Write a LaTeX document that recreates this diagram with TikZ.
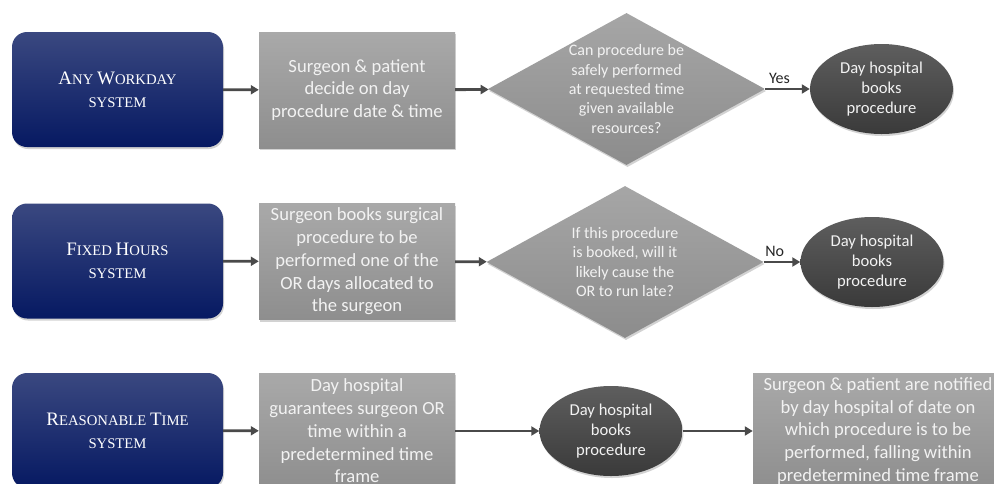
\documentclass[tikz,border=0pt]{standalone}
\usepackage{fontspec}
\setmainfont{Carlito}
\newfontfamily\titleserif{Liberation Serif}
\usetikzlibrary{shapes.geometric,arrows.meta,shadows}

\definecolor{navytop}{HTML}{3A4880}
\definecolor{navybot}{HTML}{061962}
\definecolor{steptop}{HTML}{A9A9A9}
\definecolor{stepbot}{HTML}{8E8E8E}
\definecolor{decitop}{HTML}{A6A6A6}
\definecolor{decibot}{HTML}{8C8C8C}
\definecolor{ovaltop}{HTML}{5E5E5E}
\definecolor{ovalbot}{HTML}{3A3A3A}
\definecolor{arrowgray}{HTML}{4A4A4A}
\definecolor{paletext}{HTML}{F2F2F2}

% hand-made small capitals for the system titles
\newcommand{\initialcap}[1]{{\fontsize{19}{23}\selectfont #1}}
\newcommand{\systemfont}{\titleserif\fontsize{14.7}{23}\selectfont}

\tikzset{
  shade/.style={drop shadow={opacity=0.35,shadow xshift=1pt,shadow yshift=-2pt}},
  systembox/.style={rectangle,rounded corners=15pt,minimum width=211pt,minimum height=115pt,
    inner sep=0pt,top color=navytop,bottom color=navybot,draw=none,shade,
    text=white,align=center,font=\systemfont},
  stepbox/.style={rectangle,minimum width=196pt,minimum height=116pt,inner sep=0pt,
    top color=steptop,bottom color=stepbot,draw=none,shade,
    text=paletext,align=center,font=\fontsize{18.6}{22.8}\selectfont},
  decision/.style={diamond,minimum width=277pt,minimum height=152pt,inner sep=0pt,
    top color=decitop,bottom color=decibot,draw=none,shade},
  decisiontext/.style={text=paletext,align=center,font=\fontsize{16}{19.3}\selectfont},
  oval/.style={ellipse,minimum width=143pt,minimum height=90pt,inner sep=0pt,
    top color=ovaltop,bottom color=ovalbot,draw=none,shade,
    text=paletext,align=center,font=\fontsize{16.6}{20}\selectfont},
  arr/.style={draw=arrowgray,line width=2.8pt,-{Triangle[length=8pt,width=9pt]}},
  answer/.style={text=black!85,font=\fontsize{16}{18}\selectfont,above=1pt}
}

\begin{document}
\begin{tikzpicture}[x=1pt,y=-1pt]
\clip (0,0) rectangle (994,483);
\fill[white] (0,0) rectangle (994,483);

% Any workday system
\node[systembox] (s1) at (117.5,89.5) {\initialcap{A}NY \initialcap{W}ORKDAY\\SYSTEM};
\node[stepbox] (b1) at (357,90) {Surgeon \& patient\\decide on day\\procedure date \& time};
\node[decision] (d1) at (626.5,89) {};
\node[decisiontext] (t1) at (d1.center) {Can procedure be\\safely performed\\at requested time\\given available\\resources?};
\node[oval] (e1) at (881.5,89) {Day hospital\\books\\procedure};

\draw[arr] (s1) -- (b1);
\draw[arr] (b1) -- (d1);
\draw[arr] (d1.east) -- node[answer,pos=0.32] {Yes} (e1.west);

% Fixed hours system
\node[systembox] (s2) at (117.5,261) {\initialcap{F}IXED \initialcap{H}OURS\\SYSTEM};
\node[stepbox] (b2) at (357,261.5) {Surgeon books surgical\\procedure to be\\performed one of the\\OR days allocated to\\the surgeon};
\node[decision] (d2) at (625,262) {};
\node[decisiontext] (t2) at (d2.center) {If this procedure\\is booked, will it\\likely cause the\\OR to run late?};
\node[oval] (e2) at (872,262) {Day hospital\\books\\procedure};

\draw[arr] (s2) -- (b2);
\draw[arr] (b2) -- (d2);
\draw[arr] (d2.east) -- node[answer,pos=0.3] {No} (e2.west);

% Reasonable time system
\node[systembox] (s3) at (117.5,430.5) {\initialcap{R}EASONABLE \initialcap{T}IME\\SYSTEM};
\node[stepbox] (b3) at (357,431) {Day hospital\\guarantees surgeon OR\\time within a\\predetermined time\\frame};
\node[oval] (e3) at (611,431) {Day hospital\\books\\procedure};
\node[stepbox,minimum width=250pt] (b4) at (878,431) {Surgeon \& patient are notified\\by day hospital of date on\\which procedure is to be\\performed, falling within\\predetermined time frame};

\draw[arr] (s3) -- (b3);
\draw[arr] (b3) -- (e3);
\draw[arr] (e3) -- (b4);
\end{tikzpicture}
\end{document}
